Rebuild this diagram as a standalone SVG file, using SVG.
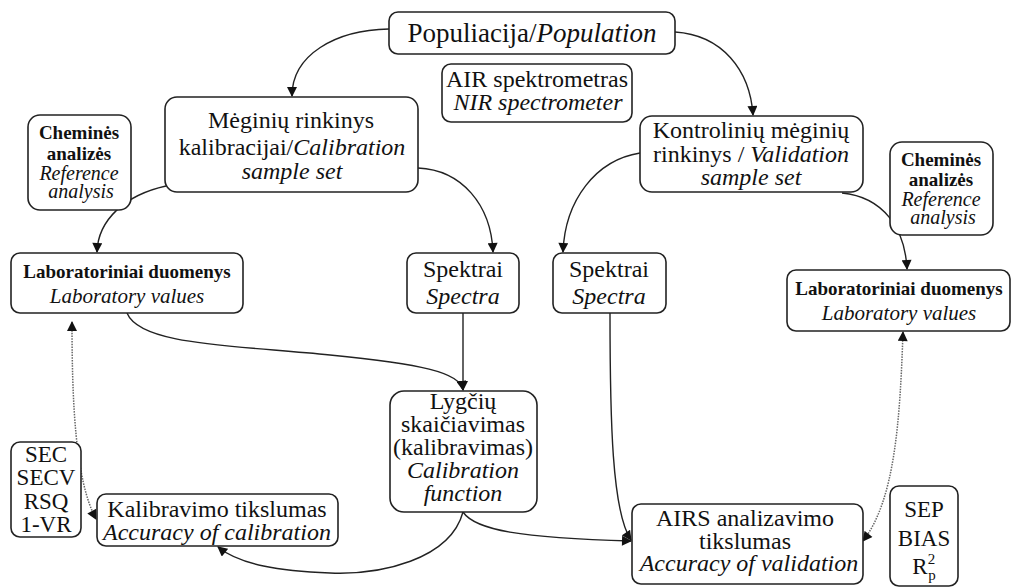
<svg xmlns="http://www.w3.org/2000/svg" width="1013" height="587" viewBox="0 0 1013 587">
<style>
.box{fill:#fff;stroke:#222;stroke-width:1.6}
text{font-family:'Liberation Serif','Times New Roman',serif;fill:#111;text-anchor:middle}
.i{font-style:italic}
.b{font-weight:bold}
.conn{fill:none;stroke:#222;stroke-width:1.4}
.dot{fill:none;stroke:#666;stroke-width:1.5;stroke-dasharray:1.5 1.2}
</style>
<defs>
<marker id="ah" viewBox="0 0 10 10" refX="9" refY="5" markerWidth="11" markerHeight="10" markerUnits="userSpaceOnUse" orient="auto-start-reverse">
<path d="M0,0 L10,5 L0,10 Z" fill="#111"/>
</marker>
</defs>
<rect width="1013" height="587" fill="#fff"/>
<g id="connectors">
<path class="conn" d="M389,29 C335,30 292,55 292,96" marker-end="url(#ah)"/>
<path class="conn" d="M675,32 C722,35 750,70 753,115" marker-end="url(#ah)"/>
<path class="conn" d="M166,186 C125,195 98,220 97,252" marker-end="url(#ah)"/>
<path class="conn" d="M418,168 C462,170 491,205 493,252" marker-end="url(#ah)"/>
<path class="conn" d="M640,153 C596,160 565,200 563,252" marker-end="url(#ah)"/>
<path class="conn" d="M842,193 C883,197 905,228 907,269" marker-end="url(#ah)"/>
<path class="conn" d="M127,313 C140,345 230,345 330,355 C420,364 460,372 463,390" marker-end="url(#ah)"/>
<path class="conn" d="M463,313 L463,390" marker-end="url(#ah)"/>
<path class="conn" d="M463,512 C450,560 380,575 330,573 C280,571 240,565 218,547" marker-end="url(#ah)"/>
<path class="conn" d="M463,512 C475,530 520,538 631,541" marker-end="url(#ah)"/>
<path class="conn" d="M610,313 C610,420 612,512 631,540" marker-end="url(#ah)"/>
<path class="dot" d="M72,322 C72,400 75,480 96,519" marker-start="url(#ah)" marker-end="url(#ah)"/>
<path class="dot" d="M903,332 C900,420 895,500 863,541" marker-start="url(#ah)" marker-end="url(#ah)"/>
</g>
<g id="population">
<rect class="box" x="389" y="12" width="286" height="42" rx="9"/>
<text x="532" y="42" font-size="27">Populiacija/<tspan class="i">Population</tspan></text>
</g>
<g id="spectrometer">
<rect class="box" x="442" y="64" width="190" height="58" rx="9"/>
<text x="537" y="87" font-size="24">AIR spektrometras</text>
<text class="i" x="538" y="110" font-size="24">NIR spectrometer</text>
</g>
<g id="calibration-set">
<rect class="box" x="165" y="97" width="253" height="95" rx="12"/>
<text x="291" y="128" font-size="24">Mėginių rinkinys</text>
<text x="292" y="155" font-size="24">kalibracijai/<tspan class="i">Calibration</tspan></text>
<text class="i" x="292" y="179" font-size="24">sample set</text>
</g>
<g id="reference-left">
<rect class="box" x="28" y="115" width="103" height="95" rx="12"/>
<text class="b" x="79" y="139" font-size="19">Cheminės</text>
<text class="b" x="79" y="160" font-size="19">analizės</text>
<text class="i" x="79" y="180" font-size="20">Reference</text>
<text class="i" x="81" y="198" font-size="20">analysis</text>
</g>
<g id="validation-set">
<rect class="box" x="640" y="116" width="223" height="76" rx="12"/>
<text x="751" y="138" font-size="24">Kontrolinių mėginių</text>
<text x="751" y="162" font-size="24">rinkinys / <tspan class="i">Validation</tspan></text>
<text class="i" x="751" y="185" font-size="24">sample set</text>
</g>
<g id="reference-right">
<rect class="box" x="890" y="142" width="103" height="93" rx="12"/>
<text class="b" x="941" y="166" font-size="19">Cheminės</text>
<text class="b" x="941" y="186" font-size="19">analizės</text>
<text class="i" x="941" y="206" font-size="20">Reference</text>
<text class="i" x="943" y="224" font-size="20">analysis</text>
</g>
<g id="lab-left">
<rect class="box" x="11" y="253" width="232" height="60" rx="9"/>
<text class="b" x="127" y="278" font-size="19">Laboratoriniai duomenys</text>
<text class="i" x="127" y="303" font-size="21">Laboratory values</text>
</g>
<g id="spectra-left">
<rect class="box" x="407" y="253" width="112" height="60" rx="9"/>
<text x="463" y="277" font-size="24">Spektrai</text>
<text class="i" x="463" y="304" font-size="24">Spectra</text>
</g>
<g id="spectra-right">
<rect class="box" x="553" y="253" width="113" height="60" rx="9"/>
<text x="609" y="277" font-size="24">Spektrai</text>
<text class="i" x="609" y="304" font-size="24">Spectra</text>
</g>
<g id="lab-right">
<rect class="box" x="787" y="270" width="223" height="61" rx="9"/>
<text class="b" x="899" y="295" font-size="19">Laboratoriniai duomenys</text>
<text class="i" x="899" y="320" font-size="21">Laboratory values</text>
</g>
<g id="calibration-function">
<rect class="box" x="390" y="391" width="147" height="121" rx="14"/>
<text x="463" y="409" font-size="24">Lygčių</text>
<text x="463" y="432" font-size="24">skaičiavimas</text>
<text x="463" y="455" font-size="24">(kalibravimas)</text>
<text class="i" x="463" y="478" font-size="24">Calibration</text>
<text class="i" x="463" y="501" font-size="24">function</text>
</g>
<g id="calibration-stats">
<rect class="box" x="11" y="442" width="70" height="95" rx="9"/>
<text x="46" y="462" font-size="23">SEC</text>
<text x="46" y="485" font-size="23">SECV</text>
<text x="46" y="509" font-size="23">RSQ</text>
<text x="46" y="532" font-size="23">1-VR</text>
</g>
<g id="calibration-accuracy">
<rect class="box" x="97" y="494" width="241" height="52" rx="9"/>
<text x="217" y="517" font-size="24">Kalibravimo tikslumas</text>
<text class="i" x="217" y="540" font-size="24">Accuracy of calibration</text>
</g>
<g id="validation-accuracy">
<rect class="box" x="632" y="504" width="231" height="80" rx="9"/>
<text x="745" y="526" font-size="24">AIRS analizavimo</text>
<text x="745" y="549" font-size="24">tikslumas</text>
<text class="i" x="749" y="571" font-size="24">Accuracy of validation</text>
</g>
<g id="validation-stats">
<rect class="box" x="890" y="486" width="68" height="100" rx="9"/>
<text x="924" y="517" font-size="23">SEP</text>
<text x="924" y="546" font-size="23">BIAS</text>
<text x="924" y="574" font-size="23">R<tspan font-size="15" dy="-10">2</tspan><tspan font-size="15" dx="-7" dy="16">p</tspan></text>
</g>
</svg>
